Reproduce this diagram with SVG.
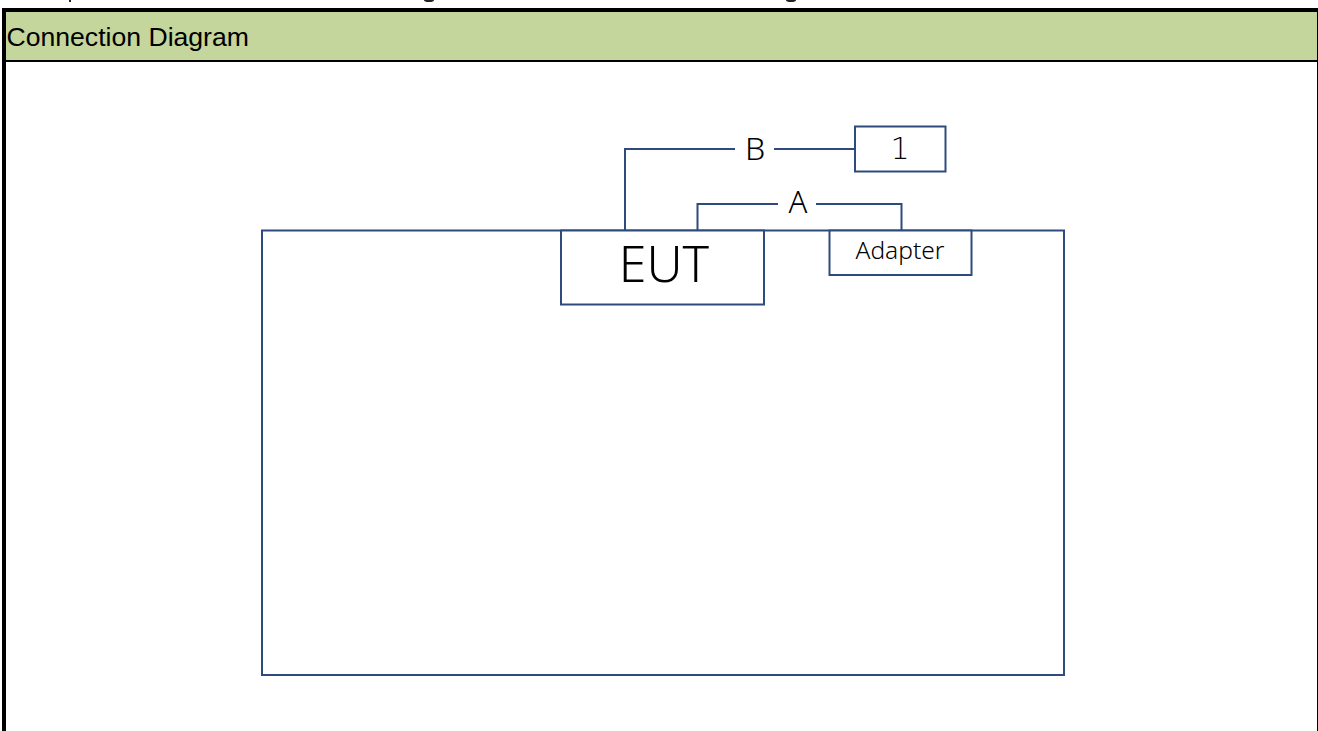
<svg xmlns="http://www.w3.org/2000/svg" width="1318" height="731" viewBox="0 0 1318 731">
<style>
.box{fill:#fff;stroke:#2f4a7c;stroke-width:2}
.wire{fill:none;stroke:#2f4a7c;stroke-width:2}
.lbl{font-family:"Noto Sans","Open Sans",sans-serif;font-weight:300;fill:#000;text-anchor:middle}
</style>
<rect width="1318" height="731" fill="#fff"/>
<g id="clipped-text-remains" fill="#222">
<rect x="69" y="0" width="2" height="2"/>
<ellipse cx="429" cy="0" rx="5" ry="2"/>
<ellipse cx="791" cy="0" rx="5" ry="2"/>
</g>
<g id="frame">
<rect x="6" y="12" width="1311" height="48" fill="#c4d69c"/>
<rect x="2" y="8" width="1316" height="4" fill="#000"/>
<rect x="2" y="8" width="4" height="723" fill="#000"/>
<rect x="1317" y="8" width="1" height="723" fill="#000"/>
<rect x="2" y="60" width="1316" height="2" fill="#000"/>
<text x="6.500" y="46" font-family="Liberation Sans, Arial, sans-serif" font-size="26.600" fill="#000">Connection Diagram</text>
</g>
<g id="room"><rect class="box" x="262" y="230.500" width="802" height="444.500"/></g>
<g id="connectors">
<path class="wire" d="M625 230V149H735M774 149H855"/>
<path class="wire" d="M697.500 230V204H778M816 204H901.500V230"/>
</g>
<g id="eut"><rect class="box" x="561" y="230.500" width="203" height="74"/><text class="lbl" x="664" y="282" font-size="50">EUT</text></g>
<g id="adapter"><rect class="box" x="829.500" y="230.500" width="142" height="44.500"/><text class="lbl" x="900" y="259" font-size="24.500">Adapter</text></g>
<g id="device-1"><rect class="box" x="855" y="126.500" width="90.500" height="45"/><text x="900" y="159" font-family="DejaVu Sans, sans-serif" font-weight="200" font-size="30" fill="#000" text-anchor="middle">1</text></g>
<text class="lbl" x="755" y="160" font-size="32">B</text>
<text class="lbl" x="798" y="213" font-size="31">A</text>
</svg>
